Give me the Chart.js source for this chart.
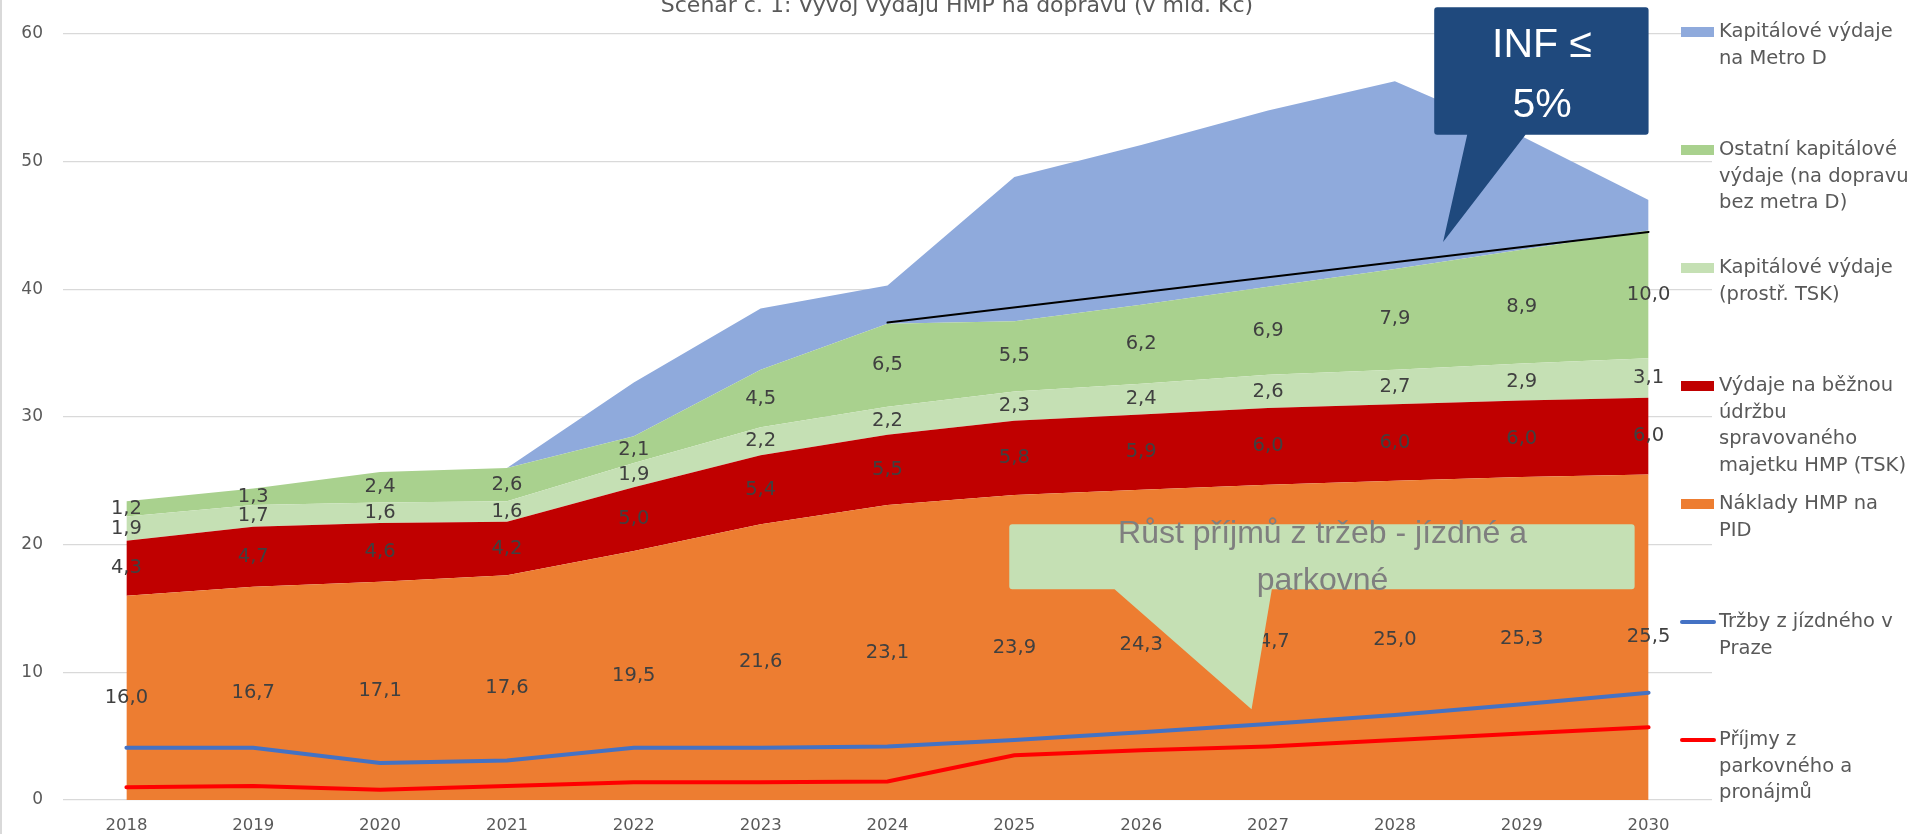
<!DOCTYPE html>
<html>
<head>
<meta charset="UTF-8">
<title>Scénář č. 1: Vývoj výdajů HMP na dopravu</title>
<script src="https://cdn.jsdelivr.net/npm/chart.js@4.4.1/dist/chart.umd.min.js"></script>
<style>
  html, body { margin: 0; padding: 0; background: #fff; }
  #wrap { width: 1915px; height: 834px; }
</style>
</head>
<body>
<div id="wrap"><canvas id="chart" width="1915" height="834"></canvas></div>
<script>
// data (mld. Kč)
const years = ['2018', '2019', '2020', '2021', '2022', '2023', '2024', '2025', '2026', '2027', '2028', '2029', '2030'];
const nakladyPID = [16.0, 16.7, 17.1, 17.6, 19.5, 21.6, 23.1, 23.9, 24.3, 24.7, 25.0, 25.3, 25.5];
const udrzbaTSK = [4.3, 4.7, 4.6, 4.2, 5.0, 5.4, 5.5, 5.8, 5.9, 6.0, 6.0, 6.0, 6.0];
const kapitalTSK = [1.9, 1.7, 1.6, 1.6, 1.9, 2.2, 2.2, 2.3, 2.4, 2.6, 2.7, 2.9, 3.1];
const ostatniKapital = [1.2, 1.3, 2.4, 2.6, 2.1, 4.5, 6.5, 5.5, 6.2, 6.9, 7.9, 8.9, 10.0];
const metroD = [0, 0, 0, 0, 4.2, 4.8, 3.0, 11.3, 12.5, 13.8, 14.7, 8.9, 2.4];
const trzbyJizdne = [4.1, 4.1, 2.9, 3.1, 4.1, 4.1, 4.2, 4.7, 5.3, 5.95, 6.65, 7.5, 8.4];
const prijmyParkovne = [1.0, 1.1, 0.8, 1.1, 1.4, 1.4, 1.45, 3.5, 3.9, 4.2, 4.7, 5.2, 5.7];
const infLimit = [null, null, null, null, null, null, 37.4, null, null, null, null, null, 44.5];
const yTicks = [0, 10, 20, 30, 40, 50, 60];

const labelled = [nakladyPID, udrzbaTSK, kapitalTSK, ostatniKapital];

const legendItems = [
  { color: '#8FAADC', kind: 'box', lines: ['Kapitálové výdaje', 'na Metro D'] },
  { color: '#A9D18E', kind: 'box', lines: ['Ostatní kapitálové', 'výdaje (na dopravu', 'bez metra D)'] },
  { color: '#C5E0B4', kind: 'box', lines: ['Kapitálové výdaje', '(prostř. TSK)'] },
  { color: '#C00000', kind: 'box', lines: ['Výdaje na běžnou', 'údržbu', 'spravovaného', 'majetku HMP (TSK)'] },
  { color: '#ED7D31', kind: 'box', lines: ['Náklady HMP na', 'PID'] },
  { color: '#4472C4', kind: 'line', lines: ['Tržby z jízdného v', 'Praze'] },
  { color: '#FF0000', kind: 'line', lines: ['Příjmy z', 'parkovného a', 'pronájmů'] }
];

const FONT = '"DejaVu Sans", sans-serif';
const GREY = '#595959';

function area(label, data, color, fill) {
  return {
    label: label, data: data, backgroundColor: color, borderColor: color,
    borderWidth: 0, pointRadius: 0, fill: fill, stack: 'vydaje', order: 1
  };
}
function line(label, data, color, width, stack) {
  return {
    label: label, data: data, borderColor: color, backgroundColor: color,
    borderWidth: width, pointRadius: 0, fill: false, stack: stack, order: 0,
    spanGaps: true, borderCapStyle: 'round'
  };
}

// callouts anchored in data coordinates (x = category index, y = value)
function calloutPath(ctx, x, y, box, base, tip) {
  const l = x.getPixelForValue(box[0]), r = x.getPixelForValue(box[1]);
  const t = y.getPixelForValue(box[2]), b = y.getPixelForValue(box[3]);
  const b1 = x.getPixelForValue(base[0]), b2 = x.getPixelForValue(base[1]);
  const tx = x.getPixelForValue(tip[0]), ty = y.getPixelForValue(tip[1]);
  const rad = 3;
  ctx.beginPath();
  ctx.moveTo(l + rad, t);
  ctx.lineTo(r - rad, t);
  ctx.quadraticCurveTo(r, t, r, t + rad);
  ctx.lineTo(r, b - rad);
  ctx.quadraticCurveTo(r, b, r - rad, b);
  ctx.lineTo(b2, b);
  ctx.lineTo(tx, ty);
  ctx.lineTo(b1, b);
  ctx.lineTo(l + rad, b);
  ctx.quadraticCurveTo(l, b, l, b - rad);
  ctx.lineTo(l, t + rad);
  ctx.quadraticCurveTo(l, t, l + rad, t);
  ctx.closePath();
  ctx.fill();
}

const decor = {
  id: 'decor',
  afterDatasetsDraw(chart) {
    const ctx = chart.ctx, x = chart.scales.x, y = chart.scales.y;
    ctx.save();
    ctx.font = '19.5px ' + FONT;
    ctx.fillStyle = '#404040';
    ctx.textAlign = 'center';
    ctx.textBaseline = 'middle';
    years.forEach((yr, i) => {
      let base = 0;
      labelled.forEach(arr => {
        const v = arr[i];
        ctx.fillText(v.toFixed(1).replace('.', ','), x.getPixelForValue(i), y.getPixelForValue(base + v / 2));
        base += v;
      });
    });
    ctx.restore();
  },
  afterDraw(chart) {
    const ctx = chart.ctx, x = chart.scales.x, y = chart.scales.y;
    ctx.save();
    // green callout
    ctx.fillStyle = '#C5E0B4';
    calloutPath(ctx, x, y, [6.96, 11.89, 21.6, 16.5], [7.79, 9.03], [8.87, 7.1]);
    ctx.fillStyle = '#7F7F7F';
    ctx.font = '32px "Liberation Sans", sans-serif';
    ctx.textAlign = 'center';
    ctx.textBaseline = 'alphabetic';
    ctx.fillText('Růst příjmů z tržeb - jízdné a', x.getPixelForValue(9.43), y.getPixelForValue(20.1));
    ctx.fillText('parkovné', x.getPixelForValue(9.43), y.getPixelForValue(16.45));
    // INF callout
    ctx.fillStyle = '#1F497D';
    calloutPath(ctx, x, y, [10.31, 12.0, 62.1, 52.1], [10.57, 11.03], [10.38, 43.7]);
    ctx.fillStyle = '#FFFFFF';
    ctx.font = '41px "Liberation Sans", sans-serif';
    ctx.fillText('INF ≤', x.getPixelForValue(11.16), y.getPixelForValue(58.2));
    ctx.fillText('5%', x.getPixelForValue(11.16), y.getPixelForValue(53.5));

    // title (top is clipped in the original)
    ctx.fillStyle = GREY;
    ctx.font = '22px ' + FONT;
    ctx.fillText('Scénář č. 1: Vývoj výdajů HMP na dopravu (v mld. Kč)', 957, 12);

    // legend
    ctx.textAlign = 'left';
    ctx.textBaseline = 'middle';
    ctx.font = '19.5px ' + FONT;
    legendItems.forEach((it, i) => {
      const cy = 32 + i * 118;
      if (it.kind === 'box') {
        ctx.fillStyle = it.color;
        ctx.fillRect(1681, cy - 5, 33, 10);
      } else {
        ctx.strokeStyle = it.color;
        ctx.lineWidth = 4;
        ctx.lineCap = 'round';
        ctx.beginPath();
        ctx.moveTo(1682, cy);
        ctx.lineTo(1714, cy);
        ctx.stroke();
      }
      ctx.fillStyle = GREY;
      it.lines.forEach((t, k) => ctx.fillText(t, 1719, cy + k * 26.7));
    });

    // chart frame edge
    ctx.fillStyle = '#D9D9D9';
    ctx.fillRect(0, 0, 2, 834);
    ctx.restore();
  }
};

new Chart(document.getElementById('chart'), {
  type: 'line',
  data: {
    labels: years,
    datasets: [
      area('Náklady HMP na PID', nakladyPID, '#ED7D31', 'origin'),
      area('Výdaje na běžnou údržbu spravovaného majetku HMP (TSK)', udrzbaTSK, '#C00000', '-1'),
      area('Kapitálové výdaje (prostř. TSK)', kapitalTSK, '#C5E0B4', '-1'),
      area('Ostatní kapitálové výdaje (na dopravu bez metra D)', ostatniKapital, '#A9D18E', '-1'),
      area('Kapitálové výdaje na Metro D', metroD, '#8FAADC', '-1'),
      line('Tržby z jízdného v Praze', trzbyJizdne, '#4472C4', 4, 'trzby'),
      line('Příjmy z parkovného a pronájmů', prijmyParkovne, '#FF0000', 4, 'parkovne'),
      line('INF ≤ 5%', infLimit, '#000000', 2, 'inf')
    ]
  },
  options: {
    responsive: false,
    animation: false,
    events: [],
    layout: { padding: { top: 34, right: 203, left: 0, bottom: 0 } },
    elements: { line: { tension: 0 } },
    plugins: {
      legend: { display: false },
      tooltip: { enabled: false },
      title: { display: false }
    },
    scales: {
      x: {
        offset: true,
        grid: { display: false },
        border: { display: false },
        ticks: { color: GREY, font: { family: FONT, size: 16.5 }, padding: 8, maxRotation: 0 },
        afterFit(s) { s.height = 34; }
      },
      y: {
        stacked: true,
        min: 0,
        max: 60,
        afterBuildTicks(s) { s.ticks = yTicks.map(v => ({ value: v })); },
        grid: { color: '#D9D9D9', lineWidth: 1.3, drawTicks: false },
        border: { display: false },
        ticks: { color: GREY, font: { family: FONT, size: 17 }, padding: 20 },
        afterFit(s) { s.width = 63; }
      }
    }
  },
  plugins: [decor]
});
</script>
</body>
</html>
